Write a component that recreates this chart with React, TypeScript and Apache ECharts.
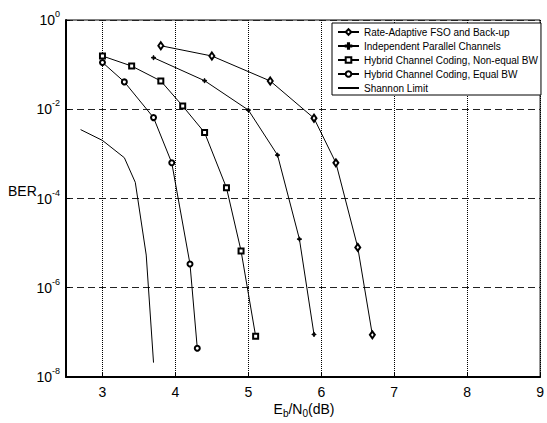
import React, { useEffect, useRef } from 'react';
import * as echarts from 'echarts';

const seriesNames = [
  'Rate-Adaptive FSO and Back-up',
  'Independent Parallel Channels',
  'Hybrid Channel Coding, Non-equal BW',
  'Hybrid Channel Coding, Equal BW',
  'Shannon Limit',
];

const rateAdaptiveX = [3.8, 4.5, 5.3, 5.9, 6.2, 6.5, 6.7];
const rateAdaptiveY = [0.265, 0.156, 0.043, 0.0063, 6.3e-4, 8e-6, 8.8e-8];

const independentX = [3.7, 4.4, 5.0, 5.4, 5.7, 5.9];
const independentY = [0.143, 0.0436, 0.0096, 9.4e-4, 1.23e-5, 9e-8];

const nonEqualX = [3.0, 3.4, 3.8, 4.1, 4.4, 4.7, 4.9, 5.1];
const nonEqualY = [0.156, 0.093, 0.043, 0.0118, 0.003, 1.74e-4, 6.7e-6, 8.2e-8];

const equalX = [3.0, 3.3, 3.7, 3.95, 4.2, 4.3];
const equalY = [0.112, 0.041, 0.0065, 6.3e-4, 3.4e-6, 4.4e-8];

const shannonX = [2.7, 3.0, 3.3, 3.45, 3.6, 3.7];
const shannonY = [0.0035, 0.002, 8.2e-4, 2.3e-4, 5.4e-6, 2.1e-8];

const FONT = 'Liberation Sans, Arial, sans-serif';
const PLUS = 'path://M2,0h1v2h2v1h-2v2h-1v-2h-2v-1h2z';

function pairs(xs: number[], ys: number[]) {
  return xs.map((x, i) => [x, ys[i]]);
}

export default function App() {
  const ref = useRef<HTMLDivElement>(null);
  useEffect(() => {
    if (!ref.current) return;
    const chart = echarts.init(ref.current, null, { renderer: 'svg' });
    const lineBase = (name: string, data: number[][], symbol: string, symbolSize: any) => ({
      name,
      type: 'line',
      data,
      symbol,
      symbolSize,
      showSymbol: symbol !== 'none',
      lineStyle: { color: '#000', width: 1 },
      itemStyle: { color: '#000', borderColor: '#000', borderWidth: 1 },
      emphasis: { disabled: true },
      z: 3,
    });
    chart.setOption({
      animation: false,
      backgroundColor: '#fff',
      grid: {
        left: 66,
        right: 5,
        top: 20,
        bottom: 46,
        show: true,
        borderColor: '#000',
        borderWidth: 1,
        backgroundColor: 'transparent',
      },
      xAxis: {
        type: 'value',
        min: 2.5,
        max: 9,
        splitNumber: 6,
        axisLine: { show: true, onZero: false, lineStyle: { color: '#000', width: 2 } },
        axisTick: { show: true, inside: true, length: 4, lineStyle: { color: '#000' } },
        axisLabel: {
          color: '#000',
          fontSize: 14,
          fontFamily: FONT,
          margin: 8,
          formatter: (v: number) => (Number.isInteger(v) ? String(v) : ''),
        },
        splitLine: { show: true, lineStyle: { color: '#000', width: 1, type: [1, 1] } },
      },
      yAxis: {
        type: 'log',
        logBase: 10,
        min: 1e-8,
        max: 1,
        interval: 2,
        axisLine: { show: true, onZero: false, lineStyle: { color: '#000', width: 2 } },
        axisTick: { show: true, inside: true, length: 4, lineStyle: { color: '#000' } },
        axisLabel: {
          color: '#000',
          fontFamily: FONT,
          margin: 6,
          formatter: (v: number) => {
            const e = Math.round(Math.log10(v));
            return '{b|10}{s|' + e + '}';
          },
          rich: {
            b: { fontSize: 14, fontFamily: FONT, color: '#000' },
            s: { fontSize: 9, fontFamily: FONT, color: '#000', padding: [0, 0, 12, 0] },
          },
        },
        splitLine: { show: true, lineStyle: { color: '#222', width: 1, type: [7, 4] } },
      },
      legend: {
        orient: 'vertical',
        left: 332,
        top: 23,
        padding: [4, 3, 2, 5],
        itemWidth: 21,
        itemHeight: 7,
        itemGap: 4,
        backgroundColor: '#fff',
        borderColor: '#000',
        borderWidth: 1,
        data: [
          seriesNames[0],
          seriesNames[1],
          seriesNames[2],
          seriesNames[3],
          { name: seriesNames[4], itemStyle: { opacity: 0 } },
        ],
        textStyle: { fontSize: 10, fontFamily: FONT, color: '#000' },
        selectedMode: false,
      },
      series: [
        lineBase(seriesNames[0], pairs(rateAdaptiveX, rateAdaptiveY), 'emptyDiamond', [5, 7]),
        lineBase(seriesNames[1], pairs(independentX, independentY), PLUS, 4),
        lineBase(seriesNames[2], pairs(nonEqualX, nonEqualY), 'emptyRect', 5),
        lineBase(seriesNames[3], pairs(equalX, equalY), 'emptyCircle', 5),
        lineBase(seriesNames[4], pairs(shannonX, shannonY), 'none', 0),
      ],
      graphic: [
        {
          type: 'text',
          left: 8,
          top: 184,
          style: { text: 'BER', fontSize: 14, fontFamily: FONT, fill: '#000' },
        },
        {
          type: 'text',
          x: 304,
          y: 399,
          style: {
            text: '{n|E}{sub|b}{n|/N}{sub|0}{n|(dB)}',
            align: 'center',
            verticalAlign: 'top',
            rich: {
              n: { fontSize: 14, fontFamily: FONT, fill: '#000' },
              sub: { fontSize: 10, fontFamily: FONT, fill: '#000', padding: [9, 0, 0, 0] },
            },
          },
        },
      ],
    });
    return () => chart.dispose();
  }, []);
  return (
    <div
      ref={ref}
      style={{ position: 'fixed', left: 0, top: 0, width: 547, height: 423, background: '#fff' }}
    />
  );
}
